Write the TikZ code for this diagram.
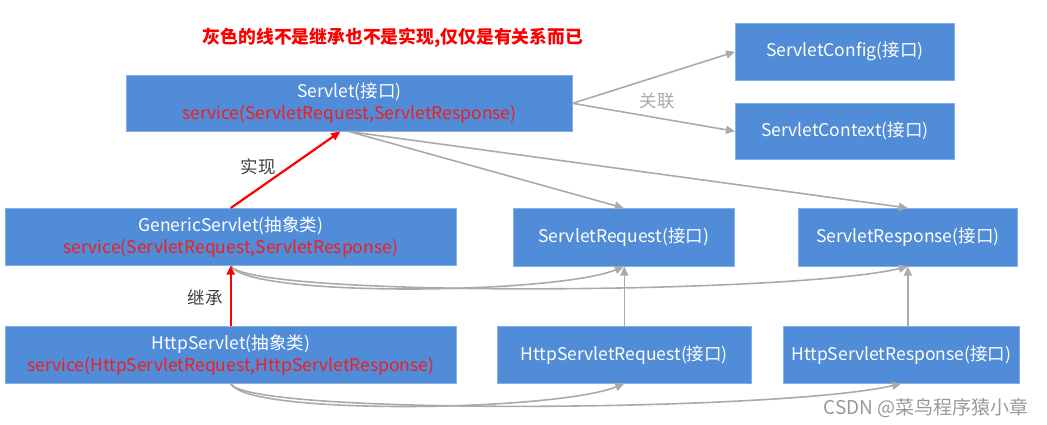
\documentclass[tikz,border=0pt]{standalone}
\usepackage{fontspec}
\setmainfont{Noto Sans CJK SC}
\usetikzlibrary{arrows.meta}
\definecolor{boxblue}{RGB}{80,140,216}
\definecolor{boxred}{RGB}{240,30,30}
\definecolor{linegray}{RGB}{170,170,170}
\definecolor{titlered}{RGB}{250,0,0}
\tikzset{
  box/.style={fill=boxblue,draw=boxblue!70!white,line width=0.6pt,anchor=north west,inner sep=0pt,text=white,align=center,font=\fontsize{17.5}{22}\selectfont},
  garrow/.style={draw=linegray,line width=1.6pt,-{Triangle[width=8pt,length=9pt]}},
  rarrow/.style={draw=red,line width=2.2pt,-{Triangle[width=8pt,length=9pt]}},
  lbl/.style={font=\fontsize{17.5}{20}\selectfont,text=black!75},
}
\begin{document}
\begin{tikzpicture}[x=1pt,y=-1pt]
\useasboundingbox (0,0) rectangle (1047,425);
\node[font=\bfseries\fontsize{17.8}{20}\selectfont,text=titlered] (title) at (393,38) {灰色的线不是继承也不是实现,仅仅是有关系而已};

\node[box,minimum width=446pt,minimum height=56pt] (sv) at (126,75) {Servlet(接口)\\\textcolor{boxred}{service(ServletRequest,ServletResponse)}};
\node[box,minimum width=219pt,minimum height=57pt] (cfg) at (735,23) {ServletConfig(接口)};
\node[box,minimum width=219pt,minimum height=56pt] (ctx) at (735,103) {ServletContext(接口)};
\node[box,minimum width=451pt,minimum height=57pt] (gs) at (5,208) {GenericServlet(抽象类)\\\textcolor{boxred}{service(ServletRequest,ServletResponse)}};
\node[box,minimum width=221pt,minimum height=58pt] (sreq) at (513,208) {ServletRequest(接口)};
\node[box,minimum width=219pt,minimum height=58pt] (sresp) at (798,208) {ServletResponse(接口)};
\node[box,minimum width=451pt,minimum height=57pt] (hs) at (5,326) {HttpServlet(抽象类)\\\textcolor{boxred}{service(HttpServletRequest,HttpServletResponse)}};
\node[box,minimum width=254pt,minimum height=57pt] (hreq) at (497,326) {HttpServletRequest(接口)};
\node[box,minimum width=236pt,minimum height=57pt] (hresp) at (783,326) {HttpServletResponse(接口)};

% association lines
\draw[garrow] (sv.east) -- (cfg.west);
\draw[garrow] (sv.east) -- (ctx.west);
\node[lbl,text=linegray] (gl) at (657,101) {关联};
\draw[garrow] (sv.south) -- (sreq.north);
\draw[garrow] (sv.south) -- (sresp.north);

% generic servlet curves
\draw[garrow] (gs.south) .. controls ++(15,32) and ++(-70,28) .. (sreq.south);
\draw[garrow] (gs.south) .. controls ++(15,32) and ++(-120,28) .. (sresp.south);
% http servlet curves
\draw[garrow] (hs.south) .. controls ++(15,32) and ++(-70,28) .. (hreq.south);
\draw[garrow] (hs.south) .. controls ++(15,32) and ++(-120,28) .. (hresp.south);

% vertical
\draw[garrow] (hreq.north) -- (hreq.north |- sreq.south);
\draw[garrow] (hresp.north -| sresp.south) -- (sresp.south);

% red
\draw[rarrow] (gs.north) -- ([xshift=-9pt]sv.south);
\node[lbl] (l1) at (258,167) {实现};
\draw[rarrow] (hs.north) -- (gs.south);
\node[lbl] (l2) at (205,298) {继承};

\node[font=\fontsize{19}{22}\selectfont,text=black!40] (wm) at (926,408) {CSDN @菜鸟程序猿小章};
\end{tikzpicture}
\end{document}
